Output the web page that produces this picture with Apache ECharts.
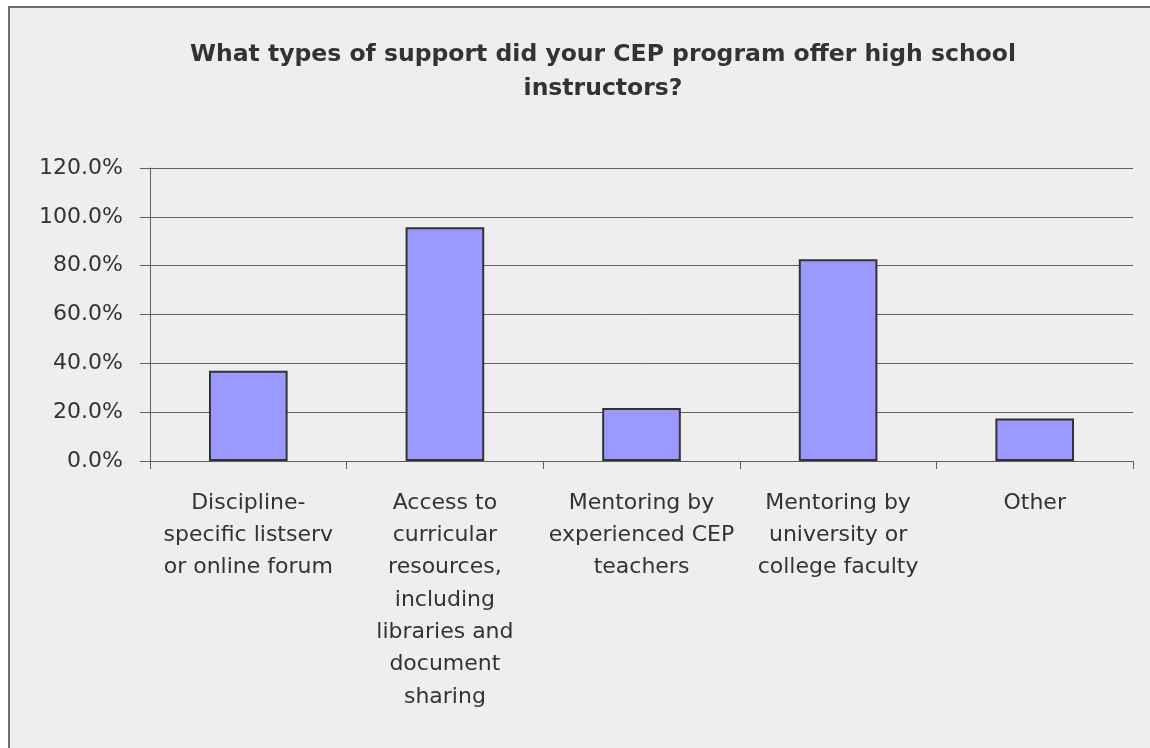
<!DOCTYPE html>
<html>
<head>
<meta charset="utf-8">
<style>
  html, body { margin: 0; padding: 0; background: #ffffff; }
  #chart { width: 1150px; height: 748px; }
</style>
<script src="https://cdn.jsdelivr.net/npm/echarts@6/dist/echarts.min.js"></script>
</head>
<body>
<div id="chart"></div>
<script>
// Survey: support types offered to high school instructors (share of programs)
const categories = [
  'Discipline-\nspecific listserv\nor online forum',
  'Access to\ncurricular\nresources,\nincluding\nlibraries and\ndocument\nsharing',
  'Mentoring by\nexperienced CEP\nteachers',
  'Mentoring by\nuniversity or\ncollege faculty',
  'Other'
];
const shares = [37.0, 95.7, 21.7, 82.6, 17.4];
const yTicks = [0, 20, 40, 60, 80, 100, 120];

const FONT = 'DejaVu Sans';

const chart = echarts.init(document.getElementById('chart'), null, { renderer: 'canvas' });

chart.setOption({
  backgroundColor: '#ffffff',
  animation: false,
  graphic: [{
    type: 'rect',
    z: -10,
    shape: { x: 9, y: 7, width: 1200, height: 800 },
    style: { fill: '#eeeeee', stroke: '#6e6e6e', lineWidth: 2 }
  }],
  title: {
    text: 'What types of support did your CEP program offer high school\ninstructors?',
    left: 598,
    top: 33,
    textAlign: 'center',
    textStyle: {
      fontFamily: FONT,
      fontWeight: 'bold',
      fontSize: 23.5,
      lineHeight: 34,
      color: '#333333'
    }
  },
  grid: { left: 150, right: 17, top: 168, bottom: 287, containLabel: false },
  xAxis: {
    type: 'category',
    data: categories,
    axisLine: { show: true, lineStyle: { color: '#5e5e5e', width: 1 } },
    axisTick: { show: true, alignWithLabel: false, length: 8, lineStyle: { color: '#5e5e5e' } },
    axisLabel: {
      interval: 0,
      margin: 26,
      fontFamily: FONT,
      fontSize: 22,
      lineHeight: 32.3,
      color: '#333333',
      align: 'center'
    }
  },
  yAxis: {
    type: 'value',
    min: 0,
    max: 120,
    interval: 20,
    axisLine: { show: true, lineStyle: { color: '#5e5e5e', width: 1 } },
    axisTick: { show: true, length: 10, lineStyle: { color: '#5e5e5e' } },
    splitLine: { show: true, lineStyle: { color: '#5e5e5e', width: 1 } },
    axisLabel: {
      margin: 27,
      fontFamily: FONT,
      fontSize: 22,
      color: '#333333',
      formatter: v => yTicks.includes(v) ? v.toFixed(1) + '%' : ''
    }
  },
  series: [{
    type: 'bar',
    data: shares,
    barCategoryGap: '60%',
    itemStyle: { color: '#9999ff', borderColor: '#333333', borderWidth: 2 }
  }]
});
</script>
</body>
</html>
